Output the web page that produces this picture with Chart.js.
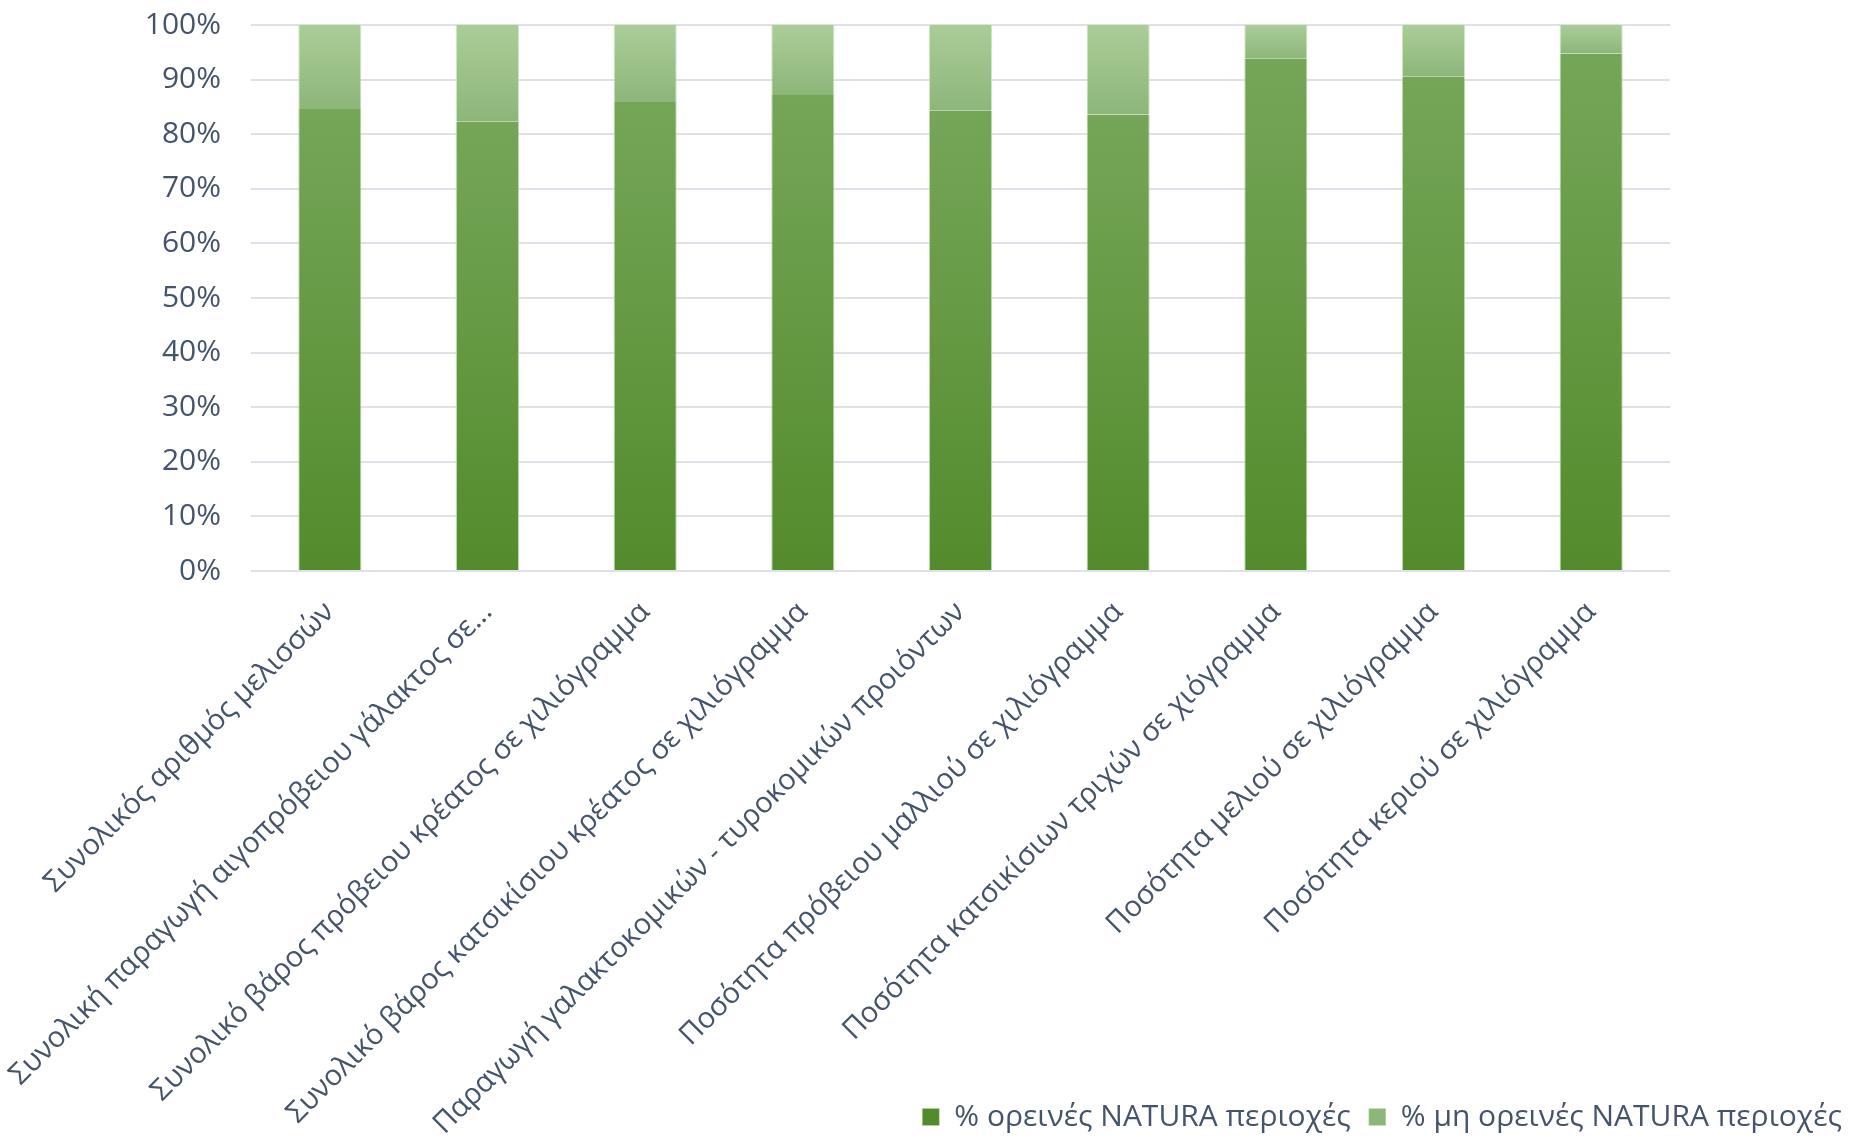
<!DOCTYPE html>
<html>
<head>
<meta charset="utf-8">
<script src="https://cdn.jsdelivr.net/npm/chart.js@4"></script>
<style>
  html, body { margin: 0; padding: 0; background: #ffffff; }
  #wrap { width: 1860px; height: 1139px; }
</style>
</head>
<body>
<div id="wrap"><canvas id="c" width="1860" height="1139"></canvas></div>
<script>
// ---- DATA ----
const categories = [
  "Συνολικός αριθμός μελισσών",
  "Συνολική παραγωγή αιγοπρόβειου γάλακτος σε...",
  "Συνολικό βάρος πρόβειου κρέατος σε χιλιόγραμμα",
  "Συνολικό βάρος κατσικίσιου κρέατος σε χιλιόγραμμα",
  "Παραγωγή γαλακτοκομικών - τυροκομικών προιόντων",
  "Ποσότητα πρόβειου μαλλιού σε χιλιόγραμμα",
  "Ποσότητα κατσικίσιων τριχών σε χιόγραμμα",
  "Ποσότητα μελιού σε χιλιόγραμμα",
  "Ποσότητα κεριού σε χιλιόγραμμα"
];
const seriesNames = ["% ορεινές NATURA περιοχές", "% μη ορεινές NATURA περιοχές"];
const mountainNatura    = [84.6, 82.3, 85.9, 87.2, 84.3, 83.6, 93.8, 90.5, 94.8];
const nonMountainNatura = [15.4, 17.7, 14.1, 12.8, 15.7, 16.4, 6.2, 9.5, 5.2];
const yTickValues = [0, 10, 20, 30, 40, 50, 60, 70, 80, 90, 100];

// ---- STYLE ----
const FONT = "'Open Sans', 'Noto Sans', sans-serif";
const TEXT = "#44546A";

function barGradient(ctx, bottomColor, topColor, flat) {
  if (ctx.type !== 'data') return flat;
  const chart = ctx.chart;
  if (!chart.chartArea) return flat;
  const y = chart.scales.y;
  const ds = chart.data.datasets;
  let start = 0;
  for (let i = 0; i < ctx.datasetIndex; i++) start += ds[i].data[ctx.dataIndex];
  const end = start + ctx.raw;
  const yb = y.getPixelForValue(start), yt = y.getPixelForValue(end);
  if (!isFinite(yb) || !isFinite(yt) || yb === yt) return flat;
  const g = chart.ctx.createLinearGradient(0, yb, 0, yt);
  g.addColorStop(0, bottomColor);
  g.addColorStop(1, topColor);
  return g;
}

// let the rotated category labels extend below the axis box (next to the legend)
const unclipLabels = {
  id: 'unclipLabels',
  afterLayout(chart) { chart.scales.x.bottom = chart.height; }
};

new Chart(document.getElementById('c'), {
  type: 'bar',
  plugins: [unclipLabels],
  data: {
    labels: categories,
    datasets: [
      {
        label: seriesNames[0],
        data: mountainNatura,
        backgroundColor: (ctx) => barGradient(ctx, '#538B2C', '#75A658', '#5B9433'),
        borderColor: 'rgba(180,214,160,0.9)',
        borderWidth: { left: 1, right: 1, top: 0, bottom: 0 },
        borderSkipped: false,
        categoryPercentage: 0.4,
        barPercentage: 1.0
      },
      {
        label: seriesNames[1],
        data: nonMountainNatura,
        backgroundColor: (ctx) => barGradient(ctx, '#8DB67A', '#AACD97', '#A3C88F'),
        borderColor: 'rgba(200,228,185,0.9)',
        borderWidth: { left: 1, right: 1, top: 0, bottom: 0 },
        borderSkipped: false,
        categoryPercentage: 0.4,
        barPercentage: 1.0
      }
    ]
  },
  options: {
    responsive: false,
    animation: false,
    devicePixelRatio: 1,
    layout: { padding: { top: 4, right: 0, bottom: -3, left: 0 } },
    plugins: {
      legend: {
        position: 'bottom',
        align: 'end',
        labels: {
          boxWidth: 17,
          boxHeight: 17,
          padding: 18,
          color: TEXT,
          font: { family: FONT, size: 30 }
        }
      },
      tooltip: { enabled: false }
    },
    scales: {
      x: {
        stacked: true,
        grid: { display: false },
        border: { display: false },
        afterFit: (scale) => { scale.height = 513; },
        ticks: {
          color: TEXT,
          font: { family: FONT, size: 29 },
          maxRotation: 45,
          minRotation: 45,
          autoSkip: false,
          padding: 16
        }
      },
      y: {
        stacked: true,
        min: 0,
        max: 100,
        afterFit: (scale) => { scale.width = 251; },
        afterBuildTicks: (scale) => { scale.ticks = yTickValues.map(v => ({ value: v })); },
        grid: { color: '#DEE2E8', lineWidth: 2, drawTicks: true, tickLength: 23, tickColor: 'rgba(0,0,0,0)' },
        border: { display: false },
        ticks: {
          color: TEXT,
          font: { family: FONT, size: 30 },
          padding: 7,
          callback: (v) => v + '%'
        }
      },
      yR: {
        type: 'linear',
        position: 'right',
        min: 0,
        max: 1,
        afterFit: (scale) => { scale.width = 190; },
        grid: { display: false, drawTicks: false },
        border: { display: false },
        ticks: { display: false }
      }
    }
  }
});
</script>
</body>
</html>
